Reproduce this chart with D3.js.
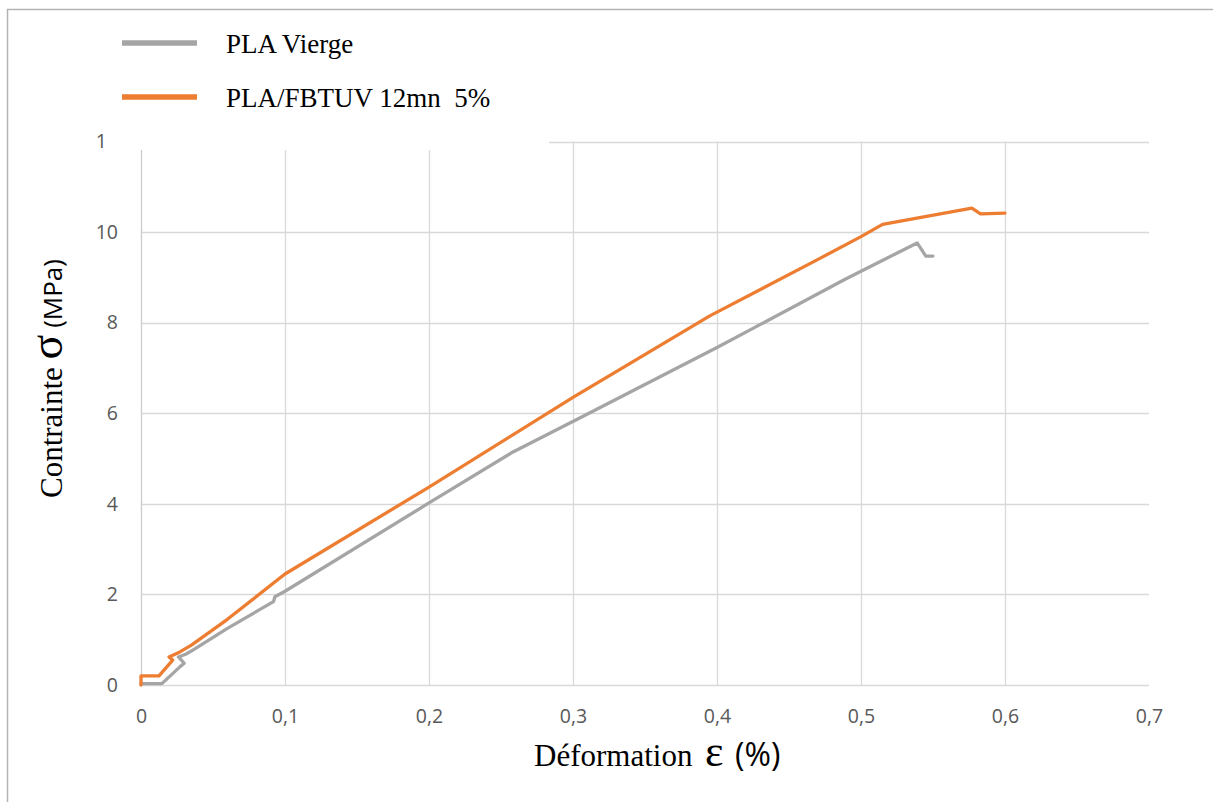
<!DOCTYPE html>
<html>
<head>
<meta charset="utf-8">
<script src="https://cdn.jsdelivr.net/npm/d3@7"></script>
<style>
  html, body { margin: 0; padding: 0; background: #ffffff; }
  svg { display: block; }
</style>
</head>
<body>
<div id="chart"></div>
<script>
// Tensile test: stress vs strain for two PLA specimens
const seriesNames = ["PLA Vierge", "PLA/FBTUV 12mn  5%"];
const seriesColors = ["#a5a5a5", "#ed7d31"];

const strainVierge = [0, 0.0145, 0.027, 0.030, 0.026, 0.031, 0.036, 0.06, 0.092, 0.093, 0.1, 0.2, 0.258, 0.305, 0.4, 0.489, 0.539, 0.545, 0.55];
const stressVierge = [0.03, 0.03, 0.40, 0.48, 0.62, 0.68, 0.77, 1.25, 1.84, 1.95, 2.07, 4.02, 5.14, 5.90, 7.45, 8.96, 9.76, 9.47, 9.47];

const strainFbtuv = [0, 0, 0.0125, 0.022, 0.0195, 0.027, 0.035, 0.06, 0.1, 0.2, 0.3, 0.395, 0.4715, 0.5, 0.515, 0.577, 0.583, 0.6];
const stressFbtuv = [0, 0.20, 0.20, 0.55, 0.62, 0.73, 0.88, 1.45, 2.45, 4.37, 6.35, 8.15, 9.42, 9.90, 10.17, 10.53, 10.40, 10.42];

const xTicks = [0, 0.1, 0.2, 0.3, 0.4, 0.5, 0.6, 0.7];
const yTicks = [0, 2, 4, 6, 8, 10, 12];

const W = 1213, H = 802;
const plot = { left: 141, right: 1149, top: 141.5, bottom: 685 };

const svg = d3.select("#chart").append("svg")
  .attr("width", W).attr("height", H);

// outer frame of the chart area
svg.append("rect")
  .attr("x", 7.5).attr("y", 9.5)
  .attr("width", W + 10).attr("height", H + 10)
  .attr("fill", "#ffffff")
  .attr("stroke", "#b4b4b4").attr("stroke-width", 1.5);

const x = d3.scaleLinear().domain([0, 0.7]).range([plot.left, plot.right]);
const y = d3.scaleLinear().domain([0, 12]).range([plot.bottom, plot.top]);

const fmtX = d => d === 0 ? "0" : String(d3.format(".1f")(d)).replace(".", ",");

// grid: horizontal lines on every y tick, vertical lines up to 0.6
const grid = svg.append("g");
grid.selectAll("line.h").data(yTicks).join("line")
  .attr("x1", plot.left).attr("x2", plot.right)
  .attr("y1", d => Math.round(y(d)) + 0.5).attr("y2", d => Math.round(y(d)) + 0.5)
  .attr("stroke", "#d9d9d9").attr("stroke-width", 1.3);
grid.selectAll("line.v").data(xTicks.filter(d => d < 0.65)).join("line")
  .attr("y1", plot.top).attr("y2", plot.bottom)
  .attr("x1", d => Math.round(x(d)) + 0.5).attr("x2", d => Math.round(x(d)) + 0.5)
  .attr("stroke", d => d === 0 ? "#cccccc" : "#d9d9d9").attr("stroke-width", 1.3);

// axes (labels only)
const xAxis = d3.axisBottom(x).tickValues(xTicks).tickFormat(fmtX).tickSize(0).tickPadding(0);
const gx = svg.append("g").attr("transform", `translate(0,${plot.bottom + 24})`).call(xAxis);
gx.select(".domain").remove();
gx.selectAll("text")
  .attr("dy", "0.71em")
  .attr("fill", "#595959")
  .style("font-family", "'Open Sans', sans-serif")
  .style("font-size", "19.5px");

const yAxis = d3.axisLeft(y).tickValues(yTicks).tickFormat(d => String(d)).tickSize(0).tickPadding(0);
const gy = svg.append("g").attr("transform", `translate(${plot.left - 23},0)`).call(yAxis);
gy.select(".domain").remove();
gy.selectAll("text")
  .attr("fill", "#595959")
  .style("font-family", "'Open Sans', sans-serif")
  .style("font-size", "19.5px");

// curves
const line = d3.line().x(d => x(d[0])).y(d => y(d[1]));
const dataVierge = strainVierge.map((s, i) => [s, stressVierge[i]]);
const dataFbtuv = strainFbtuv.map((s, i) => [s, stressFbtuv[i]]);

svg.append("path").datum(dataVierge)
  .attr("d", line).attr("fill", "none")
  .attr("stroke", seriesColors[0]).attr("stroke-width", 3.3)
  .attr("stroke-linejoin", "round").attr("stroke-linecap", "round");
svg.append("path").datum(dataFbtuv)
  .attr("d", line).attr("fill", "none")
  .attr("stroke", seriesColors[1]).attr("stroke-width", 3.3)
  .attr("stroke-linejoin", "round").attr("stroke-linecap", "round");

// legend panel (sits over the top of the plot area)
svg.append("rect")
  .attr("x", 106).attr("y", 12)
  .attr("width", 549 - 106).attr("height", 150 - 12)
  .attr("fill", "#ffffff");

const legendRows = [0, 1];
const legendY = [43, 97];
const leg = svg.append("g");
leg.selectAll("line").data(legendRows).join("line")
  .attr("x1", 122).attr("x2", 197)
  .attr("y1", i => legendY[i]).attr("y2", i => legendY[i])
  .attr("stroke", i => seriesColors[i]).attr("stroke-width", 5.5);
leg.selectAll("text").data(legendRows).join("text")
  .attr("x", 226).attr("y", i => legendY[i] + 10)
  .attr("fill", "#000000")
  .style("font-family", "'Liberation Serif', 'Times New Roman', serif")
  .style("font-size", "27px")
  .style("white-space", "pre")
  .attr("xml:space", "preserve")
  .text(i => seriesNames[i]);

// axis titles
const xt = svg.append("text")
  .attr("x", 534).attr("y", 766)
  .attr("fill", "#000000")
  .style("font-family", "'Liberation Serif', 'Times New Roman', serif")
  .style("font-size", "31px");
xt.append("tspan").text("Déformation");
xt.append("tspan").attr("x", 705).style("font-size", "44px").text("ε");
xt.append("tspan").attr("x", 735).style("font-family", "'Open Sans', sans-serif").style("font-size", "32px").text("(%)");

const yt = svg.append("text")
  .attr("transform", "translate(62,498) rotate(-90)")
  .attr("fill", "#000000")
  .style("font-family", "'Liberation Serif', 'Times New Roman', serif")
  .style("font-size", "31px")
  .attr("xml:space", "preserve");
yt.append("tspan").text("Contrainte ");
yt.append("tspan").style("font-size", "46px").text("σ");
yt.append("tspan").style("font-family", "'Open Sans', sans-serif").style("font-size", "26px").text(" (MPa)");
</script>
</body>
</html>
